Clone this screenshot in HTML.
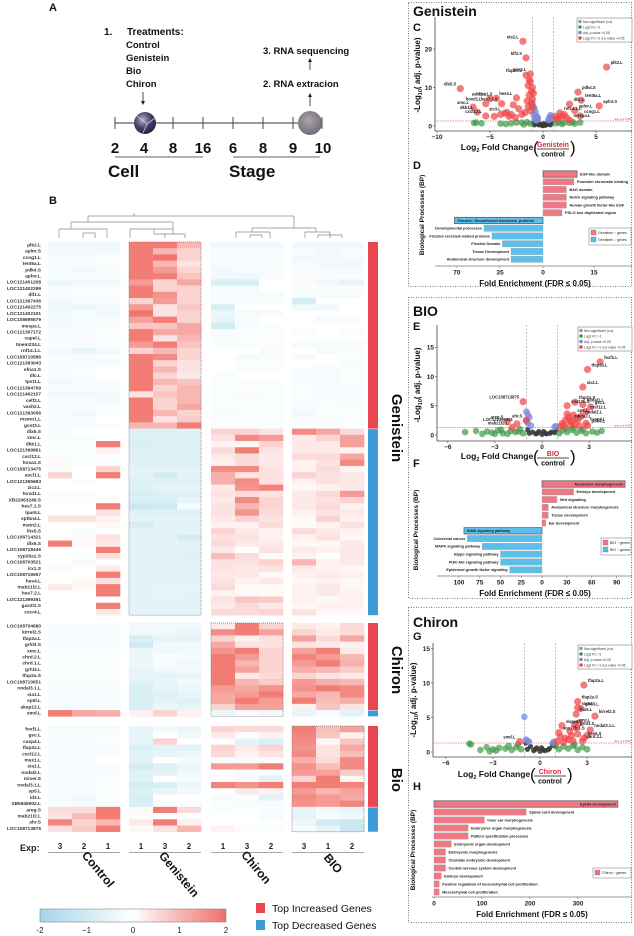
<!DOCTYPE html>
<html><head><meta charset="utf-8">
<style>
html,body{margin:0;padding:0;background:#fff;}
svg{display:block;font-family:"Liberation Sans",Arial,sans-serif;}
</style></head>
<body>
<svg id="fig" width="634" height="936" viewBox="0 0 634 936" xmlns="http://www.w3.org/2000/svg">
<defs>
<radialGradient id="emb1" cx="40%" cy="35%" r="70%"><stop offset="0" stop-color="#b8b4d0"/><stop offset="0.5" stop-color="#4a4670"/><stop offset="1" stop-color="#1e1c3a"/></radialGradient>
<radialGradient id="emb2" cx="45%" cy="40%" r="65%"><stop offset="0" stop-color="#aaa4ae"/><stop offset="1" stop-color="#6e6874"/></radialGradient>
<linearGradient id="cbar" x1="0" x2="1" y1="0" y2="0"><stop offset="0" stop-color="#a3d6ea"/><stop offset="0.5" stop-color="#ffffff"/><stop offset="1" stop-color="#f07068"/></linearGradient>
</defs>

<!-- Panel A -->
<g font-weight="bold" fill="#111">
<text x="49" y="11" font-size="11">A</text>
<text x="104" y="35" font-size="10">1.</text>
<text x="127" y="35" font-size="10">Treatments:</text>
<text x="126" y="48" font-size="9.5">Control</text>
<text x="126" y="61" font-size="9.5">Genistein</text>
<text x="126" y="74" font-size="9.5">Bio</text>
<text x="126" y="87" font-size="9.5">Chiron</text>
<line x1="143" y1="92" x2="143" y2="103" stroke="#222" stroke-width="0.8"/>
<path d="M141,101 L143,105 L145,101 Z" fill="#222"/>
<text x="263" y="54" font-size="9.5">3. RNA sequencing</text>
<line x1="310" y1="60" x2="310" y2="70" stroke="#222" stroke-width="0.8"/>
<path d="M308,62 L310,58 L312,62 Z" fill="#222"/>
<text x="263" y="87" font-size="9.5">2. RNA extracion</text>
<line x1="310" y1="95" x2="310" y2="106" stroke="#222" stroke-width="0.8"/>
<path d="M308,97 L310,93 L312,97 Z" fill="#222"/>
<g stroke="#333" stroke-width="0.9">
<line x1="115" y1="123" x2="322" y2="123"/>
<line x1="115" y1="117" x2="115" y2="129"/><line x1="173" y1="117" x2="173" y2="129"/><line x1="203" y1="117" x2="203" y2="129"/><line x1="233" y1="117" x2="233" y2="129"/><line x1="263" y1="117" x2="263" y2="129"/><line x1="293" y1="117" x2="293" y2="129"/><line x1="322" y1="117" x2="322" y2="129"/>
</g>
<circle cx="145" cy="123" r="11" fill="url(#emb1)"/>
<path d="M137,116 L147,124 L143,133 M147,124 L155,118" stroke="#ccc" stroke-width="0.8" fill="none"/>
<circle cx="310" cy="123" r="12" fill="url(#emb2)"/>
<g font-size="15" text-anchor="middle">
<text x="115" y="153">2</text><text x="144" y="153">4</text><text x="173" y="153">8</text><text x="203" y="153">16</text><text x="233" y="153">6</text><text x="263" y="153">8</text><text x="293" y="153">9</text><text x="323" y="153">10</text>
</g>
<line x1="115" y1="157" x2="203" y2="157" stroke="#333" stroke-width="0.8"/>
<line x1="233" y1="157" x2="320" y2="157" stroke="#333" stroke-width="0.8"/>
<text x="108" y="177" font-size="17">Cell</text>
<text x="229" y="177" font-size="17">Stage</text>
<text x="49" y="204" font-size="11">B</text>
</g>

<!-- dendrogram -->
<g stroke="#888" stroke-width="0.7" fill="none">
<path d="M134,213 V216 M88,216 H294 M88,216 V222 M71,222 H173 M71,222 V229 M59,229 H107 M59,229 V238 M107,229 V238 M83,233 H95 M83,233 V238 M95,233 V238"/>
<path d="M173,222 V229 M154,229 H173 M130,229 V238 M130,229 H154 M154,229 V234 M154,234 H173 M173,229 V234 M165,234 V238 M185,234 V238 M165,234 H185"/>
<path d="M294,216 V228 M252,228 H316 M252,228 V232 M236,232 H270 M236,232 V238 M270,232 V238 M250,235 H262 M250,235 V238 M262,235 V238 M316,228 V232 M305,232 H330 M305,232 V238 M330,232 V238 M318,235 H342 M318,235 V238 M342,235 V238"/>
</g>

<g id="heatmap"></g>

<!-- right panels: boxes and titles -->
<g fill="none" stroke="#555" stroke-width="0.8" stroke-dasharray="1,1.5">
<rect x="408.5" y="2.5" width="223" height="284"/>
<rect x="408.5" y="297.5" width="223" height="301"/>
<rect x="408.5" y="607.5" width="223" height="315"/>
</g>
<g font-weight="bold" fill="#111">
<text x="413" y="16" font-size="14">Genistein</text>
<text x="413" y="31" font-size="11">C</text>
<text x="413" y="169" font-size="11">D</text>
<text x="413" y="316" font-size="14">BIO</text>
<text x="413" y="330" font-size="11">E</text>
<text x="413" y="467" font-size="11">F</text>
<text x="413" y="627" font-size="14">Chiron</text>
<text x="413" y="640" font-size="11">G</text>
<text x="413" y="790" font-size="11">H</text>
</g>
<g id="charts"></g>
</svg>

<script>
// ================= HEATMAP DATA =================
const hmColumnGroups = ["Control","Genistein","Chiron","BIO"];
const hmExpLabels = [["3","2","1"],["1","3","2"],["1","3","2"],["3","1","2"]];
const hmGenesGen = ["plk2.L","aplnr.S","ccng1.L","tent5a.L","pdk4.S","aplnr.L","LOC121401208","LOC121402299","dll1.L","LOC121397436","LOC121402275","LOC121402101","LOC108695579","mespa.L","LOC121397172","capel.L","tmem234.L","rnf14.1.L","LOC108710586","LOC121393043","efna1.S","dlc.L","tpst1.L","LOC121394709","LOC121402107","celf2.L","vash2.L","LOC121393056","msmo1.L","gcnt3.L",
"dlx5.S","xmc.L","dkk1.L","LOC121399961","cxcl12.L","hoxa1.S","LOC108713475","ascl1.L","LOC121395683","zic3.L","hoxd1.L","XB22063249.S","hes7.1.S","lpar6.L","sptbn4.L","matn2.L","lhx5.S","LOC108714321","dlx6.S","LOC108718445","cyp26a1.S","LOC108703521","irx1.S","LOC108719557","hes4.L","mab21l2.L","hes7.2.L","LOC121399351","gas2l1.S","cxcr4.L"];
const hmGenesChi = ["LOC108704680","kirrel2.S","tfap2a.L","grhl3.S","xmc.L","chrd.2.L","chrd.1.L","grhl3.L","tfap2a.S","LOC108710651","nodal3.1.L","sia1.L","sp5l.L","akap12.L","smd.L"];
const hmGenesBio = ["foxf1.L","gsc.L","casp4.L","tfap2a.L","cxcl12.L","msx1.L","sia1.L","nodal2.L","mixer.S","nodal3.1.L","sp5.L","id3.L","XB5848902.L","areg.S","mab21l2.L","ahr.S","LOC108713875"];
const hmUpCount = [30,14,13];
const hmValGen = [
[-.3,-.3,-.3,1.8,1.8,1.0,-.3,-.3,-.3,-.3,-.3,-.3],[-.3,-.3,-.3,1.8,1.0,.6,-.2,-.2,-.2,-.2,-.3,-.2],[-.2,-.2,-.1,1.8,1.9,.6,-.2,-.2,-.2,-.3,-.3,-.2],[-.2,-.1,-.1,1.8,1.0,.4,-.2,-.2,-.1,-.2,-.3,-.3],[-.2,-.3,-.2,1.8,1.4,.6,-.3,-.2,-.2,-.2,-.2,-.2],[-.2,-.2,-.2,1.8,1.8,.8,-.3,-.3,-.2,-.1,-.1,-.1],[-.4,-.3,-.3,1.4,.6,1.2,-.8,-.8,0,.1,-.3,-.5],[-.2,-.1,-.1,1.8,.6,.6,-.2,-.2,0,-.1,-.1,-.1],[-.2,-.1,-.1,1.8,1.5,.6,-.2,-.2,-.2,-.2,-.2,-.2],[-.3,-.2,-.2,.6,1.4,.6,-.2,-.1,-.1,-.9,0,0],
[-.4,-.4,-.3,1.4,.4,.8,-.8,0,0,-.3,-.3,0],[-.3,-.2,-.3,1.9,.4,.6,-.4,-.2,-.2,0,0,0],[-.3,-.2,-.2,1.3,1.8,.6,-.5,-.2,0,0,-.2,-.1],[-.3,-.2,-.1,.8,.8,1.2,-.9,-.2,-.1,0,0,0],[-.2,-.2,-.1,1.8,1.2,1.2,-.2,-.1,-.1,-.1,0,-.1],[-.2,-.1,-.1,1.8,.4,1.0,-.2,-.1,-.1,0,0,0],[-.1,-.2,-.1,1.4,1.8,.8,-.1,-.1,-.1,-.2,-.2,-.2],[-.3,-.5,-.3,.6,1.0,.6,0,0,.1,0,-.2,-.1],[-.2,-.2,-.1,1.8,1.6,.6,0,-.2,-.1,-.2,0,-.1],[-.2,-.2,-.2,1.8,.6,.4,0,-.1,-.1,0,0,-.2],
[-.2,-.1,0,1.8,1.0,.4,0,-.1,-.1,-.1,-.2,-.1],[-.2,-.1,0,1.8,.6,.3,-.1,0,0,-.2,-.2,-.1],[-.3,-.2,-.1,1.8,1.0,.8,-.1,-.1,-.1,-.2,-.2,-.1],[-.2,-.2,-.1,1.8,.6,1.0,-.1,-.1,-.1,-.1,-.2,-.2],[-.3,-.3,-.3,.4,.8,1.0,-.1,.1,-.1,-.1,-.2,-.2],[-.2,-.2,-.3,1.8,.6,1.0,-.1,-.1,-.1,-.1,-.1,-.2],[-.2,-.2,-.1,1.8,.6,1.2,-.1,-.1,-.1,-.2,-.1,-.1],[-.2,-.3,-.1,1.8,1.0,.6,-.2,-.1,-.1,-.3,-.1,-.1],[-.2,-.1,0,1.8,.4,.7,-.1,-.1,-.1,-.2,-.2,-.1],[-.2,-.2,-.1,1.0,1.0,1.8,-.1,-.1,-.1,-.1,-.1,-.1],
[-.2,0,0,-.7,-.7,-.7,.6,.6,.4,1.6,1.2,.5],[-.1,-.1,0,-.7,-.7,-.7,.4,1.6,1.4,.3,.6,1.3],[-.1,-.1,1.8,-.8,-.7,-.7,.2,.1,.6,.3,.3,1.3],[-.1,-.1,.2,-.7,-.7,-.7,.5,1.8,.4,.3,.3,.2],[-.1,-.1,-.1,-.7,-.7,-.7,.3,.5,.3,.5,.5,1.2],[.1,-.1,-.1,-.7,-.7,-.7,.2,.5,.3,.2,.4,1.6],[-.1,0,.6,-.6,-.6,-.6,1.6,1.6,.4,.2,.5,.2],[.6,0,1.8,-.6,-.9,-.6,1.1,.4,.4,.6,.4,.3],[0,-.1,0,-.7,-.7,-.7,1.1,1.6,.4,.2,.4,.3],[0,0,0,-.7,-.6,-.6,.3,1.5,1.7,.1,.2,.3],
[-.1,-.1,0,-.8,-.7,-.7,.4,.5,.4,.3,.5,1.4],[-.1,-.1,.1,-.8,-.8,-.5,.3,1.6,.6,.3,.4,.6],[0,0,1.8,-1.1,-1.0,-.2,.4,1.0,.6,.3,.5,.2],[0,0,.4,-.7,-.7,-.7,.4,1.5,.5,.2,.4,.3],[.4,.4,.2,-.6,-.6,-.6,.3,.6,.4,.1,.6,.2],[0,0,.1,-.9,-.6,-.6,.2,.2,.5,.1,.2,.4],[0,-.1,0,-.6,-.6,-.6,.6,.3,.2,.5,.3,.2],[0,.1,.4,-.6,-.6,-.9,.4,.4,.2,.2,.4,.1],[1.8,.1,.3,-.6,-.6,-.6,.5,.3,.3,.1,.1,.3],[0,0,1.8,-.6,-.6,-.6,.3,0,.4,.3,.2,.3],
[0,-.1,.4,-.6,-.6,-.7,.9,.5,.1,.2,0,.3],[0,-.2,0,-.6,-.6,-.6,.4,.4,.6,1.0,.2,.3],[-.1,0,.3,-.6,-.6,-.6,.4,.3,.4,.3,.2,.1],[0,0,1.8,-.6,-.6,-.6,.3,.3,.1,.2,.3,.2],[0,.1,.4,-.6,-.6,-.6,.4,.2,.3,.1,.2,.1],[.3,.1,1.8,-.6,-.5,-.5,.5,.1,.1,.2,.3,.1],[0,0,1.8,-.6,-.5,-.6,.2,.1,.1,.2,.3,.2],[0,0,0,-.6,-.6,-.6,.4,.8,.7,.2,.1,.2],[0,0,1.8,-.6,-.6,-.6,.3,.5,.3,.1,.2,.2],[0,0,.3,-.6,-.6,-.6,.5,.5,.6,.4,.1,.1]];
const hmValChi = [
[-.2,-.2,-.2,-.3,-.3,-.3,.3,1.8,.6,.3,.2,.5],[-.2,-.2,-.2,-.3,-.3,-.4,1.6,1.8,1.3,.6,.3,.5],[-.2,-.2,-.2,-.8,-.5,-.6,.6,.2,.4,1.3,.5,1.2],[-.2,-.2,-.2,-1.0,-.3,-.3,1.2,.4,.4,.4,.3,.2],[-.1,-.1,-.1,-.4,-.3,-.3,1.5,1.8,.6,1.3,1.8,.3],[-.1,-.1,-.1,-.4,-.1,-.2,1.8,1.4,.6,1.7,1.4,1.0],[-.1,-.1,-.1,-.4,-.2,-.3,1.8,1.0,.6,1.4,1.8,1.1],[-.1,-.1,-.1,-.5,-.3,-.3,1.8,1.3,.6,1.1,1.0,.7],[-.1,-.1,-.1,-.5,-.6,-.5,1.8,.3,.5,.6,.4,.3],[-.1,-.1,-.1,-.7,-.5,-.3,1.8,1.0,.7,1.4,1.1,1.0],[-.2,-.2,-.2,-.8,-.6,-.4,1.4,1.2,1.5,1.5,1.8,1.6],[-.2,-.2,-.2,-.8,-.7,-.5,1.2,1.4,1.8,1.2,1.0,1.6],[-.2,-.2,-.2,-.8,-.6,-.7,1.2,1.8,1.4,1.8,.9,1.1],[-.2,-.2,-.2,-.8,-.4,-.5,.6,1.3,1.3,.2,.8,.4],[1.8,1.2,1.1,.2,.6,.2,-.4,-.2,-.3,-.5,-.2,-.6]];
const hmValBio = [
[-.2,-.2,-.2,-.5,-.3,-.4,.6,.5,.5,1.8,.9,1.3],[-.2,-.2,-.1,-.5,0,-.3,.3,0,.2,1.7,.8,.2],[-.2,-.2,-.1,-.5,.6,0,0,-.6,-.8,1.6,.1,.8],[-.2,-.2,-.2,-.8,-.6,-.6,.6,.3,.6,1.5,.4,1.2],[-.2,-.2,-.1,-.6,-.5,-.4,.5,.2,.4,1.6,.4,.9],[-.2,-.2,0,-.6,0,-.2,-.2,-.2,-.2,1.1,.5,1.6],[-.2,-.2,-.1,-.9,-.7,-.4,1.4,1.4,1.8,1.5,.9,1.6],[-.2,-.1,-.2,-.7,-.6,-.3,0,-.2,-.1,1.4,1.3,.7],[-.2,-.2,-.1,-.7,0,-.2,0,-.2,-.6,.6,1.8,.1],[-.2,-.2,-.1,-.9,-.8,-.4,1.7,1.5,1.8,1.8,1.8,1.7],[-.2,-.2,-.1,-.7,-.5,-.3,0,.3,.2,1.4,1.0,1.3],[-.2,-.3,-.1,-.8,0,0,-.2,-.1,-.6,1.6,1.4,1.2],[-.2,-.2,-.1,-.8,-.2,-.1,-.1,-.2,-.2,1.5,1.4,1.7],[.5,.5,1.8,.1,1.8,.5,-.1,0,-.1,-.5,-.3,-.5],[.4,.9,1.8,-.1,0,0,0,0,-.2,-.6,-.2,-.3],[1.7,.6,1.0,.3,1.8,.2,0,0,0,-.4,-1.0,-1.1],[.4,.7,1.8,.1,.4,1.0,.2,-.1,-.1,-.2,-.5,-1.1]];
const hmScaleTicks = ["-2","\u22121","0","1","2"];

// ================= VOLCANO DATA =================
const cRedX = [-1.9,-1.6,6.0,-1.2,-1.6,-7.8,3.3,-4.4,-2.5,-5.0,3.6,5.3,-3.9,-5.4,2.5,1.6,-6.6,-6.2,-3.6,3.0,-5.4,3.5,2.5,-1.2,-1.0,-1.1,-1.3,-1.5,-1.4,-1.2,-1.7,-2.0,-2.3,-2.8,-3.0,-3.2,-1.0,-1.1,-1.3,1.2,1.5,1.8,2.0,2.2,1.3,-4.0,-4.6,-0.9,-1.0,-1.4,-2.6,-3.4];
const cRedY = [22,17.7,15.3,13.5,13.2,9.7,8.8,7.2,7.3,7.1,6.7,5.2,5.8,5.8,5.7,3.4,4.9,3.6,3.3,4,2.6,2.6,1.5,11.5,10,9,8,6.5,5,4,3.5,3,4.5,5.5,3,2.5,7,6,12,2.5,2,2.6,3,2.2,1.8,3,2.5,8.5,5,10.5,2.2,3.5];
const cLabels = ["ets2.L","klf2.S","plk2.L","pim3.L","tfap2c.L","dlx5.S","pdk4.S","hoxa1.S","hes4.L","ascl1.L","tent5a.L","aplnr.S","hes7.1.S","hoxd1.L","dll1.L","rnf14.1.L","xmc.L","dkk1.L","zic3.L","aplnr.L","cxcl12.L","ccng1.L","mespa.L"];
const cBlueX = [-1.0,-0.9,-0.8,-0.7,-0.6,-0.9,-0.8,-0.7,-0.5,0.5,0.6,0.7,0.8,0.9,0.6,0.7,-0.6,-0.5];
const cBlueY = [6,5,4.5,3.5,2.5,3,2,1.6,1.8,1.5,2.2,2.8,2.5,2,1.6,1.8,1.4,2.2];
const cGreenX = [-6.5,-6.3,-5.8,-4,-3,-2.5,-2,-1.5,-1.2,1.2,1.5,2,2.5,3,3.5,-3.5,-1.8,1.8,2.8];
const cGreenY = [0.8,0.9,0.7,0.6,0.7,0.9,0.9,1,0.6,0.7,0.9,0.9,0.8,0.6,0.9,0.5,0.4,0.5,1];
const cGreyX = [-0.9,-0.7,-0.5,-0.3,-0.1,0,0.2,0.4,0.6,0.8,-0.8,-0.4,0.3,0.7,-0.2,0.1,-0.6,0.5];
const cGreyY = [0.8,1,0.6,0.4,0.2,0.1,0.2,0.4,0.7,0.9,0.3,0.3,0.3,0.3,0.5,0.6,1.1,1.0];

const eRedX = [3.7,2.9,2.6,-1.2,2.1,2.6,1.6,3.1,2.8,2.0,-1.6,-1.0,2.5,-2.2,1.8,2.8,-1.9,2.9,1.3,1.5,1.7,1.9,2.1,2.3,1.4,1.6,2.2,2.4,1.2,1.8];
const eRedY = [12.5,11.2,8.2,5.7,5.6,5.2,5.0,4.8,4.0,3.4,1.9,2.5,3.2,2.3,2.5,2.0,1.3,1.6,2.0,2.6,3.0,2.2,1.8,2.6,1.6,3.6,2.9,1.5,1.5,1.7];
const eLabels = ["foxf1.L","tfap2a.L","sia1.L","LOC108713875","tfap2a.S","nodal1.L","sox17b.S","gsc.L","cxcl12.L","sp5.L","LOC121399351","ahr.S","nodal2.L","areg.S","cdeta2.L","casp4.L","mab21l2.L","pdk4.L"];
const eBlueX = [-1.0,-0.9,-0.8,-1.0,-0.9,-0.7,0.9,0.8];
const eBlueY = [4.0,3.5,3.0,2.5,2.0,1.6,1.5,1.4];
const eGreenX = [-4.9,-4.2,-3.5,-3.2,-2.8,-2.5,-2.0,-1.7,-1.4,-1.2,-3.0,-2.2,-1.5,1.1,1.3,1.6,1.9,2.2,2.5,2.8,3.2,3.5,3.8,1.5,2.0,2.6,-3.8,-2.6];
const eGreenY = [0.5,0.7,0.6,0.4,0.8,0.3,0.7,0.5,1.0,0.3,0.2,0.2,0.6,0.3,0.8,0.5,0.9,0.4,0.7,0.3,0.6,0.4,0.7,1.1,1.2,1.0,0.2,0.9];
const eGreyX = [-0.9,-0.6,-0.3,0,0.3,0.6,0.9,-0.8,-0.4,0.2,0.5,0.8,-0.2,0.1];
const eGreyY = [0.9,0.5,0.3,0.1,0.2,0.5,0.8,0.3,0.2,0.3,0.3,0.4,0.6,0.6];

const gRedX = [2.8,2.4,2.4,2.6,2.3,1.4,2.2,2.3,3.5,3.2,1.2,2.8,2.7,-1.3,1.6,1.8,2.0,2.1,1.5,1.9,2.4,1.1,1.3,2.5,3.0];
const gRedY = [9.7,7.3,6.4,6.3,5.5,3.8,4.0,3.5,5.2,3.2,2.8,2.0,1.6,1.5,2.0,1.8,2.4,1.6,1.4,3.0,2.6,1.5,2.2,4.2,2.4];
const gLabels = ["tfap2a.L","tfap2a.S","sia1.L","grhl3.L","lhx5.L","dusp6.L","xmc.L","grhl3.S","kirrel2.S","nodal3.1.L","sox17b.1.S","hes6.S","chrd.2.L","smd.L"];
const gBlueX = [-1.0,-0.9,-0.8,-0.7,0.9,0.8];
const gBlueY = [5.1,1.8,1.6,1.5,1.5,1.3];
const gGreenX = [-4.5,-4.4,-3.8,-3.4,-3.0,-2.6,-2.2,-1.8,-1.5,-1.2,-2.8,-2.0,1.2,1.5,1.8,2.1,2.4,2.7,3.0,-3.2,-1.4,2.2,1.0];
const gGreenY = [1.2,1.1,0.3,0.7,0.4,0.6,0.5,0.3,0.7,0.4,0.2,0.9,0.4,0.8,0.5,0.9,0.3,0.7,0.4,0.1,1.1,1.1,0.9];
const gGreyX = [-0.9,-0.6,-0.3,0,0.3,0.6,0.9,-0.8,-0.4,0.2,0.5,0.8,-0.2,0.1];
const gGreyY = [1.3,0.8,0.4,0.1,0.2,0.5,0.9,0.4,0.2,0.3,0.3,1.0,0.6,0.6];

const volcanoLegendItems = ["Non-significant (n.s)","Log2 FC >1","Adj. p-value <0.05","Log2 FC >1 & p-value <0.05"];

// ================= ENRICHMENT BAR DATA =================
const dLabels = ["EGF-like domain","Promoter chromatin binding","BAG domain","Notch signaling pathway","Human growth factor-like EGF","PDLO box duplicated region","Frizzled / Smoothened transmem. proteins","Developmental processes","Frizzled secreted-related proteins","Frizzled Domain","Tissue Development","Anatomical structure development"];
const dValues = [10,9.1,6.9,6.9,6.9,5.6,-72,-48,-41.5,-33,-26,-26];
const dTicks = [-70,-35,0,15];
const fLabels = ["Mesoderm morphogenesis","Embryo development","Wnt signalling","Anatomical structure morphogenesis","Tissue development","Ear development","ErbB signaling pathway","Colorectal cancer","MAPK signaling pathway","Hippo signaling pathway","PI3K-Akt signaling pathway","Epidermal growth factor signaling"];
const fValues = [100,38,18,7.6,7.6,4.5,-94,-90,-72,-50,-50,-39];
const fTicks = [-100,-75,-50,-25,0,30,60,90];
const hLabels = ["Eyelid development","Spinal cord development","Inner ear morphogenesis","Embryonic organ morphogenesis","Pattern specification processes","Embryonic organ development","Embryonic morphogenesis","Chordate embryonic development","Central nervous system development","Embryo development","Positive regulation of mesenchymal cell proliferation","Mesenchymal cell proliferation"];
const hValues = [383,192,105,71,71,36,24,24,24,15,11,11];
const hTicks = [0,100,200,300];

// ================= DRAWING =================
const NS = "http://www.w3.org/2000/svg";
function mk(tag, attrs, parent){ const e=document.createElementNS(NS,tag); for(const k in attrs) e.setAttribute(k,attrs[k]); parent.appendChild(e); return e; }
function txt(s, attrs, parent){ const e=mk("text",attrs,parent); e.textContent=s; return e; }

function hmColor(v){
  const t=Math.min(1,Math.abs(v)/2);
  let c = v>=0 ? [240,110,102] : [160,214,232];
  const r=Math.round(255+(c[0]-255)*t), g=Math.round(255+(c[1]-255)*t), b=Math.round(255+(c[2]-255)*t);
  return "rgb("+r+","+g+","+b+")";
}

(function drawHeatmap(){
  const root=document.getElementById("heatmap");
  const colX=[48,129,211,292], colW=24, rowH=6.22;
  const blocks=[{top:242,genes:hmGenesGen,vals:hmValGen,hl:1},{top:623,genes:hmGenesChi,vals:hmValChi,hl:2},{top:726,genes:hmGenesBio,vals:hmValBio,hl:3}];
  blocks.forEach((b,bi)=>{
    b.genes.forEach((g,ri)=>{
      const y=b.top+ri*rowH;
      const lab=txt(g,{x:41,y:y+4.4,"font-size":4.8,"font-weight":"bold","text-anchor":"end",fill:"#333"},root);
      
      
      b.vals[ri].forEach((v,ci)=>{
        const grp=Math.floor(ci/3), k=ci%3;
        const r=mk("rect",{x:colX[grp]+k*colW,y:y,width:colW+0.3,height:rowH+0.3,fill:hmColor(v)},root);
        
        
      });
    });
    const n=b.genes.length, up=hmUpCount[bi];
    const hr=mk("rect",{x:colX[b.hl],y:b.top,width:colW*3,height:n*rowH,fill:"none",stroke:"#777","stroke-width":0.7,"stroke-dasharray":"1,1"},root);
    
    
    const s1=mk("rect",{x:368,y:b.top,width:10,height:up*rowH,fill:"#e8474f"},root);
    
    
    const s2=mk("rect",{x:368,y:b.top+up*rowH+0.5,width:10,height:(n-up)*rowH-0.5,fill:"#3d9bd6"},root);
    
    
  });
  // side titles
  [["Genistein",392,428],["Chiron",392,670],["Bio",392,780]].forEach(s=>{
    const t=txt(s[0],{x:s[1],y:s[2],"font-size":15,"font-weight":"bold","text-anchor":"middle",transform:"rotate(90 "+s[1]+" "+s[2]+")",fill:"#111"},root);
    
    
  });
  const ex=txt("Exp:",{x:20,y:851,"font-size":9,"font-weight":"bold",fill:"#222"},root);
  
  
  const gc=[[95,872],[176,877],[253,870],[330,866]];
  hmColumnGroups.forEach((gname,gi)=>{
    hmExpLabels[gi].forEach((e,k)=>{
      const t=txt(e,{x:colX[gi]+k*colW+12,y:849,"font-size":8,"font-weight":"bold","text-anchor":"middle",fill:"#222"},root);
      
      
    });
    const l=mk("line",{x1:colX[gi],x2:colX[gi]+72,y1:852.5,y2:852.5,stroke:"#888","stroke-width":0.8},root);
    
    
    const t=txt(gname,{x:gc[gi][0],y:gc[gi][1],"font-size":12,"font-weight":"bold","text-anchor":"middle",transform:"rotate(50 "+gc[gi][0]+" "+gc[gi][1]+")",fill:"#111"},root);
    
    
  });
  const cb=mk("rect",{x:40,y:909,width:186,height:13,fill:"url(#cbar)",stroke:"#888","stroke-width":0.6},root);
  
  
  hmScaleTicks.forEach((s,i)=>{
    const t=txt(s,{x:40+i*46.5,y:933,"font-size":8,"text-anchor":"middle",fill:"#222"},root);
    
    
  });
  const lr=mk("rect",{x:256,y:903,width:9,height:10,fill:"#e8474f"},root);
  
  
  const lt=txt("Top Increased Genes",{x:272,y:912,"font-size":10.5,fill:"#111"},root);
  
  
  const lb=mk("rect",{x:256,y:920,width:9,height:10,fill:"#3d9bd6"},root);
  
  
  const lt2=txt("Top Decreased Genes",{x:272,y:929,"font-size":10.5,fill:"#111"},root);
  
  
})();

const charts=document.getElementById("charts");

function drawVolcano(cfg){
  const g=mk("g",{},charts);
  
  
  const X=v=>cfg.x0+v*cfg.sx, Y=v=>cfg.y0-v*cfg.sy;
  // axes
  mk("line",{x1:cfg.left,x2:cfg.left,y1:cfg.top,y2:cfg.bottom,stroke:"#444","stroke-width":0.8},g);
  mk("line",{x1:cfg.left,x2:632,y1:cfg.bottom,y2:cfg.bottom,stroke:"#444","stroke-width":0.8},g);
  [-1,1].forEach(v=>mk("line",{x1:X(v),x2:X(v),y1:cfg.top,y2:cfg.bottom,stroke:"#999","stroke-width":0.6,"stroke-dasharray":"2,1.5"},g));
  mk("line",{x1:cfg.left,x2:632,y1:Y(1.3),y2:Y(1.3),stroke:"#e03030","stroke-width":0.5,"stroke-dasharray":"1.5,1"},g);
  txt("adj. p ≤ 0.05",{x:631,y:Y(1.3)-0.8,"font-size":3,"text-anchor":"end",fill:"#e03030"},g);
  cfg.xt.forEach(v=>{
    mk("line",{x1:X(v),x2:X(v),y1:cfg.bottom,y2:cfg.bottom+2,stroke:"#444","stroke-width":0.6},g);
    const t=txt(v<0?"\u2212"+(-v):String(v),{x:X(v),y:cfg.bottom+8,"font-size":6.5,"font-weight":"bold","text-anchor":"middle",fill:"#222"},g);
    
    
  });
  cfg.yt.forEach(v=>{
    mk("line",{x1:cfg.left-2,x2:cfg.left,y1:Y(v),y2:Y(v),stroke:"#444","stroke-width":0.6},g);
    const t=txt(String(v),{x:cfg.left-3,y:Y(v)+2.3,"font-size":6.5,"font-weight":"bold","text-anchor":"end",fill:"#222"},g);
    
    
  });
  const sets=[[cfg.grey,"#3a3a3a",0.9,2.6],[cfg.green,"#3f9a48",0.7,3.3],[cfg.blue,"#7a8ad6",0.75,3.3],[cfg.red,"#f04848",0.72,3.6]];
  sets.forEach(s=>{
    const xs=s[0][0], ys=s[0][1];
    xs.forEach((xv,i)=>{
      const c=mk("circle",{cx:X(xv),cy:Y(ys[i]),r:s[3],fill:s[1],"fill-opacity":s[2]},g);
      
      
    });
  });
  cfg.labels.forEach((lab,i)=>{
    const xv=cfg.red[0][i], yv=cfg.red[1][i];
    const right=xv>0;
    const t=txt(lab,{x:X(xv)+(right?4:-4),y:Y(yv)-3,"font-size":4.2,"font-weight":"bold","text-anchor":right?"start":"end",fill:"#222"},g);
    
    
  });
  // legend
  const lg=mk("g",{},g);
  
  
  mk("rect",{x:cfg.lx,y:cfg.ly,width:632-cfg.lx,height:24,fill:"#fff",stroke:"#666","stroke-width":0.5},lg);
  const lc=["#999","#3f9a48","#7a8ad6","#f04848"];
  volcanoLegendItems.forEach((s,i)=>{
    mk("circle",{cx:cfg.lx+3,cy:cfg.ly+3.5+i*5.5,r:1.8,fill:lc[i]},lg);
    txt(s,{x:cfg.lx+6,y:cfg.ly+5+i*5.5,"font-size":3.3,fill:"#333"},lg);
  });
  // axis titles
  const yt=txt("",{x:cfg.ytx,y:cfg.yty,"font-size":8,"font-weight":"bold","text-anchor":"middle",transform:"rotate(-90 "+cfg.ytx+" "+cfg.yty+")",fill:"#111"},g);
  yt.innerHTML='-Log<tspan font-size="5.5" dy="2">10</tspan><tspan dy="-2">( adj. p-value)</tspan>';
  
  
  const xt=txt("",{x:cfg.xtx,y:cfg.xty,"font-size":8.5,"font-weight":"bold","text-anchor":"middle",fill:"#111"},g);
  xt.innerHTML='Log<tspan font-size="5.5" dy="2">2</tspan><tspan dy="-2"> Fold Change</tspan>';
  
  
  const fx=cfg.xtx+56;
  txt("(",{x:fx-20,y:cfg.xty+3,"font-size":17,fill:"#111"},g);
  txt(")",{x:fx+17,y:cfg.xty+3,"font-size":17,fill:"#111"},g);
  const num=txt(cfg.treat,{x:fx,y:cfg.xty-3,"font-size":7,"font-weight":"bold","text-anchor":"middle",fill:"#e02a36"},g);
  
  
  mk("line",{x1:fx-16,x2:fx+16,y1:cfg.xty-1,y2:cfg.xty-1,stroke:"#111","stroke-width":0.7},g);
  txt("control",{x:fx,y:cfg.xty+6.5,"font-size":7,"font-weight":"bold","text-anchor":"middle",fill:"#111"},g);
}

drawVolcano({name:"volcano-genistein",x0:543,sx:10.6,y0:126,sy:3.85,left:435,top:17,bottom:131,xt:[-10,-5,0,5],yt:[0,10,20],
  red:[cRedX,cRedY],blue:[cBlueX,cBlueY],green:[cGreenX,cGreenY],grey:[cGreyX,cGreyY],labels:cLabels,lx:577,ly:18,ytx:420,yty:75,xtx:497,xty:150,treat:"Genistein"});
drawVolcano({name:"volcano-bio",x0:542,sx:15.7,y0:435,sy:5.85,left:437,top:325,bottom:441,xt:[-6,-3,0,3],yt:[0,5,10,15],
  red:[eRedX,eRedY],blue:[eBlueX,eBlueY],green:[eGreenX,eGreenY],grey:[eGreyX,eGreyY],labels:eLabels,lx:578,ly:327,ytx:420,yty:385,xtx:497,xty:459,treat:"BIO"});
drawVolcano({name:"volcano-chiron",x0:540,sx:15.7,y0:752,sy:6.9,left:433,top:643,bottom:757,xt:[-6,-3,0,3],yt:[0,5,10,15],
  red:[gRedX,gRedY],blue:[gBlueX,gBlueY],green:[gGreenX,gGreenY],grey:[gGreyX,gGreyY],labels:gLabels,lx:578,ly:645,ytx:416,yty:700,xtx:494,xty:777,treat:"Chiron"});

function drawBars(cfg){
  const g=mk("g",{},charts);
  
  
  const X=v=>cfg.x0+v*(v>=0?cfg.sp:cfg.sn);
  mk("line",{x1:cfg.axl,x2:632,y1:cfg.axy,y2:cfg.axy,stroke:"#999","stroke-width":1},g);
  cfg.ticks.forEach(v=>{
    mk("line",{x1:X(v),x2:X(v),y1:cfg.axy,y2:cfg.axy+2,stroke:"#777","stroke-width":0.6},g);
    const t=txt(String(Math.abs(v)),{x:X(v),y:cfg.axy+8.5,"font-size":6.5,"font-weight":"bold","text-anchor":"middle",fill:"#222"},g);
    
    
  });
  let firstPos=true, firstNeg=true;
  cfg.vals.forEach((v,i)=>{
    const cy=cfg.y0+i*cfg.step, h=6.4;
    const x1=Math.min(X(0),X(v)), w=Math.abs(X(v)-X(0));
    const first = v>=0 ? firstPos : firstNeg;
    const r=mk("rect",{x:x1,y:cy-h/2,width:w,height:h,fill:v>=0?"#ee7884":"#5bbfe9",stroke:first?"#555":"#aaa","stroke-width":first?0.7:0.4},g);
    
    
    let tx,anchor;
    if(first && w>40){ tx=v>=0?X(v)-2:X(v)+3; anchor=v>=0?"end":"start"; }
    else if(v>=0){ tx=X(v)+3; anchor="start"; }
    else { tx=X(v)-2; anchor="end"; }
    const t=txt(cfg.labels[i],{x:tx,y:cy+1.3,"font-size":3.8,"font-weight":"bold","text-anchor":anchor,fill:"#222"},g);
    
    
    if(v>=0) firstPos=false; else firstNeg=false;
  });
  const yt=txt("Biological Processes (BP)",{x:cfg.ytx,y:cfg.yty,"font-size":6.5,"font-weight":"bold","text-anchor":"middle",transform:"rotate(-90 "+cfg.ytx+" "+cfg.yty+")",fill:"#111"},g);
  
  
  const xt=txt("Fold Enrichment (FDR ≤ 0.05)",{x:cfg.xtx,y:cfg.axy+20,"font-size":8,"font-weight":"bold","text-anchor":"middle",fill:"#111"},g);
  
  
  const lg=mk("g",{},g);
  
  
  mk("rect",{x:cfg.lx,y:cfg.ly,width:632-cfg.lx-1,height:cfg.leg.length*7+3,fill:"#fff",stroke:"#777","stroke-width":0.5},lg);
  cfg.leg.forEach((s,i)=>{
    mk("rect",{x:cfg.lx+2,y:cfg.ly+2+i*7,width:5,height:5,fill:i===0?"#ee7884":"#5bbfe9",stroke:"#666","stroke-width":0.3},lg);
    txt(s,{x:cfg.lx+9,y:cfg.ly+6+i*7,"font-size":3.6,fill:"#222"},lg);
  });
}
drawBars({name:"enrichment-genistein",x0:543,sp:3.4,sn:1.23,axl:435,axy:266,ticks:dTicks,vals:dValues,labels:dLabels,y0:174,step:7.75,ytx:424,yty:215,xtx:535,lx:589,ly:228,leg:["Genistein \u2191 genes","Genistein \u2193 genes"]});
drawBars({name:"enrichment-bio",x0:542,sp:0.83,sn:0.83,axl:437,axy:576,ticks:fTicks,vals:fValues,labels:fLabels,y0:484,step:7.8,ytx:418,yty:530,xtx:535,lx:601,ly:538,leg:["BIO \u2191 genes","BIO \u2193 genes"]});
drawBars({name:"enrichment-chiron",x0:434,sp:0.48,sn:0.48,axl:432,axy:897,ticks:hTicks,vals:hValues,labels:hLabels,y0:804,step:8,ytx:415,yty:850,xtx:532,lx:593,ly:868,leg:["Chiron \u2191 genes"]});
</script>
</body></html>
